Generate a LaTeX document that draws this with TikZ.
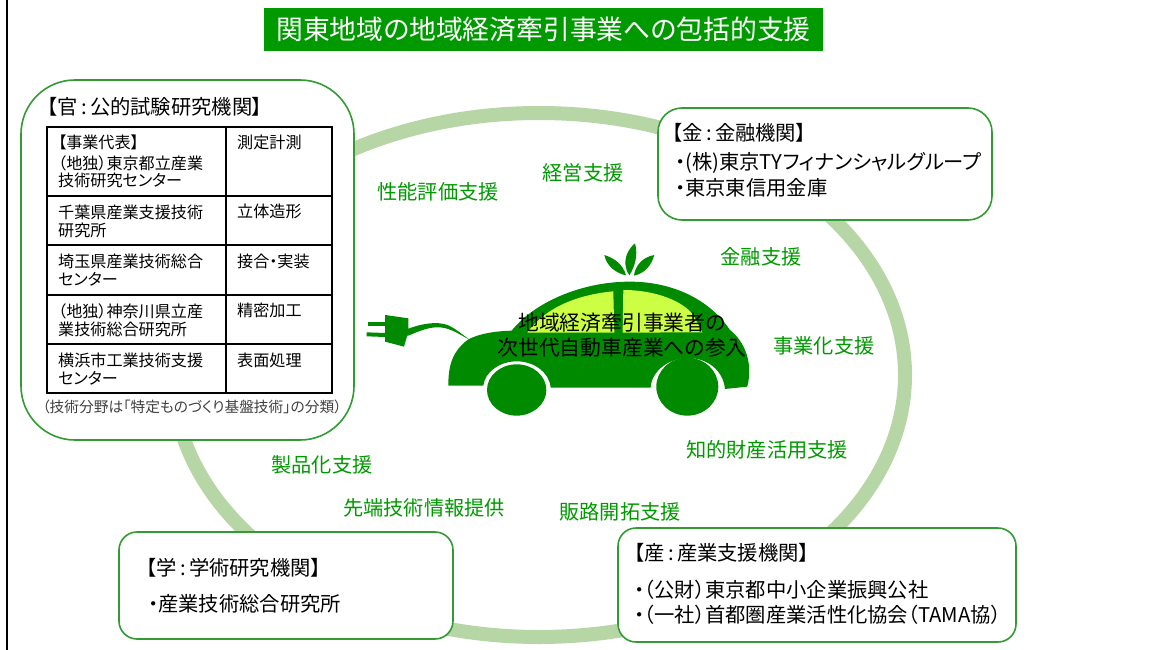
\documentclass[tikz,border=0pt]{standalone}
\usepackage{fontspec}
\setmainfont[RawFeature=+palt]{Noto Sans CJK JP}
\usepackage{tikz}
\usetikzlibrary{positioning}
\definecolor{leafgreen}{RGB}{0,153,0}
\definecolor{cargreen}{RGB}{0,138,0}
\definecolor{ringgreen}{RGB}{183,214,165}
\definecolor{glassgreen}{RGB}{204,255,68}
\tikzset{
  orgbox/.style={draw=leafgreen!85!black!80, line width=1.6pt, fill=white, anchor=north west, outer sep=0pt, inner sep=0pt},
  headtext/.style={anchor=west, inner sep=0pt, font=\fontsize{20.3}{22}\selectfont},
  linetext/.style={anchor=west, inner sep=0pt, font=\fontsize{20.3}{22}\selectfont},
  support/.style={text=leafgreen, inner sep=0pt, font=\fontsize{20.2}{22}\selectfont},
  cell/.style={draw=black, line width=1.2pt, outer sep=0pt, inner sep=0pt, minimum width=179pt},
  cellb/.style={draw=black, line width=1.2pt, outer sep=0pt, inner sep=0pt, minimum width=106pt},
  celltext/.style={anchor=north west, inner sep=0pt, align=left, font=\fontsize{16.1}{17.5}\selectfont},
  cartext/.style={inner sep=0pt, font=\fontsize{20.8}{22}\selectfont}
}
\begin{document}
\begin{tikzpicture}[x=1pt,y=-1pt]
\useasboundingbox (0,0) rectangle (1169,650);
\fill[white] (0,0) rectangle (1169,650);
\coordinate (edgetop) at (7,0);
\coordinate (edgebot) at (7,650);
\draw[line width=2pt] (edgetop) -- (edgebot);
%----------------------------------
\node [fill=leafgreen, text=white, minimum width=559pt, minimum height=43pt, inner sep=0pt, font=\fontsize{26.8}{28}\selectfont] (title) at (543.5,29.5) {関東地域の地域経済牽引事業への包括的支援};
%----------------------------------
\draw[ringgreen, line width=14pt] (539,375) ellipse [x radius=366, y radius=262];
%----------------------------------
\node [orgbox, rounded corners=54pt, minimum width=333pt, minimum height=360pt] (kan) at (21,80) {};
\node [orgbox, rounded corners=24pt, minimum width=334pt, minimum height=112pt] (kin) at (658,108) {};
\node [orgbox, rounded corners=18pt, minimum width=334pt, minimum height=107pt] (gaku) at (119,532) {};
\node [orgbox, rounded corners=18pt, minimum width=398pt, minimum height=114pt] (san) at (618,528) {};
%----------------------------------
\node [headtext] (kanhead) at (47,107) {【官\,:\,公的試験研究機関】};
\node [cell, anchor=north west, minimum height=69pt] (r1) at (47,127) {};
\node [cell, below=0pt of r1, minimum height=49pt] (r2) {};
\node [cell, below=0pt of r2, minimum height=50pt] (r3) {};
\node [cell, below=0pt of r3, minimum height=49pt] (r4) {};
\node [cell, below=0pt of r4, minimum height=49pt] (r5) {};
\node [cellb, right=0pt of r1, minimum height=69pt] (f1) {};
\node [cellb, right=0pt of r2, minimum height=49pt] (f2) {};
\node [cellb, right=0pt of r3, minimum height=50pt] (f3) {};
\node [cellb, right=0pt of r4, minimum height=49pt] (f4) {};
\node [cellb, right=0pt of r5, minimum height=49pt] (f5) {};
%----------------------------------
\node [celltext] (t1) at (58,135) {【事業代表】\\[3pt]（地独）東京都立産業\\技術研究センター};
\node [celltext] (t2) at (58,205) {千葉県産業支援技術\\研究所};
\node [celltext] (t3) at (58,254) {埼玉県産業技術総合\\センター};
\node [celltext] (t4) at (58,304) {（地独）神奈川県立産\\業技術総合研究所};
\node [celltext] (t5) at (58,353) {横浜市工業技術支援\\センター};
\node [celltext] (g1) at (237,135) {測定計測};
\node [celltext] (g2) at (237,204) {立体造形};
\node [celltext] (g3) at (237,254) {接合・実装};
\node [celltext] (g4) at (237,303) {精密加工};
\node [celltext] (g5) at (237,353) {表面処理};
\node [anchor=center, inner sep=0pt, text=black!75, font=\fontsize{14.7}{16}\selectfont] (kannote) at (192,407) {（技術分野は「特定ものづくり基盤技術」の分類）};
%----------------------------------
\node [headtext] (kinhead) at (672,133) {【金\,:\,金融機関】};
\node [linetext] (kin1) at (675,163) {・(株)東京TYフィナンシャルグループ};
\node [linetext, below=25pt of kin1.west, anchor=west] (kin2) {・東京東信用金庫};
%----------------------------------
\node [headtext] (gakuhead) at (146,568) {【学\,:\,学術研究機関】};
\node [linetext] (gaku1) at (148,604) {・産業技術総合研究所};
%----------------------------------
\node [headtext] (sanhead) at (634,553) {【産\,:\,産業支援機関】};
\node [linetext] (san1) at (634,590) {・（公財）東京都中小企業振興公社};
\node [linetext, below=25pt of san1.west, anchor=west] (san2) {・（一社）首都圏産業活性化協会（TAMA協）};
%----------------------------------
\node [support] (perf) at (438,192) {性能評価支援};
\node [support] (mgmt) at (583,173) {経営支援};
\node [support] (fin) at (761,257) {金融支援};
\node [support] (biz) at (824,346) {事業化支援};
\node [support] (ip) at (767,450) {知的財産活用支援};
\node [support] (sales) at (620,512) {販路開拓支援};
\node [support] (info) at (424,508) {先端技術情報提供};
\node [support] (prod) at (322,465) {製品化支援};
%----------------------------------
\begin{scope}[shift={(340,220)}, x=0.3333pt, y=-0.3333pt]
% body with wheel arches
\fill[cargreen] (325,497) .. controls (325,440) and (335,395) .. (385,358)
  .. controls (420,340) and (470,333) .. (515,332)
  .. controls (580,250) and (720,185) .. (870,185)
  .. controls (1000,185) and (1110,240) .. (1170,330)
  .. controls (1215,365) and (1240,430) .. (1222,500)
  -- (1155,507) .. controls (1150,450) and (1100,414) .. (1045,414)
  .. controls (990,414) and (935,450) .. (932,503)
  -- (632,503) .. controls (628,455) and (580,424) .. (530,424)
  .. controls (480,424) and (435,455) .. (430,497) -- cycle;
\fill[cargreen] (530,510) ellipse [x radius=89, y radius=77];
\fill[cargreen] (1042,500) ellipse [x radius=93, y radius=87];
% windows
\fill[glassgreen] (562,338) .. controls (610,270) and (700,225) .. (820,214) -- (823,338) -- cycle;
\fill[glassgreen] (850,210) .. controls (950,210) and (1030,245) .. (1060,285) -- (1087,337) -- (848,338) -- cycle;
% plug and cable
\fill[cargreen] (135,285) -- (205,295) -- (205,335) -- (192,380) -- (135,365) -- cycle;
\fill[cargreen] (85,306) -- (135,306) -- (135,318) -- (85,318) -- cycle;
\fill[cargreen] (80,337) -- (135,339) -- (135,351) -- (80,349) -- cycle;
\fill[cargreen] (200,328) .. controls (240,312) and (290,302) .. (325,316) .. controls (345,325) and (365,342) .. (387,358)
  .. controls (360,345) and (335,325) .. (300,322) .. controls (265,320) and (235,335) .. (202,348) -- cycle;
% leaves
\fill[cargreen] (885,70) .. controls (850,100) and (850,140) .. (868,166) .. controls (885,140) and (895,105) .. (885,70) -- cycle;
\fill[cargreen] (793,105) .. controls (800,140) and (830,160) .. (858,166) .. controls (850,135) and (825,115) .. (793,105) -- cycle;
\fill[cargreen] (943,105) .. controls (905,112) and (885,140) .. (882,167) .. controls (915,160) and (935,135) .. (943,105) -- cycle;
\end{scope}
\node [cartext] (car1) at (622,323) {地域経済牽引事業者の};
\node [cartext, below=25pt of car1.center, anchor=center] (car2) {次世代自動車産業への参入};
\end{tikzpicture}
\end{document}
